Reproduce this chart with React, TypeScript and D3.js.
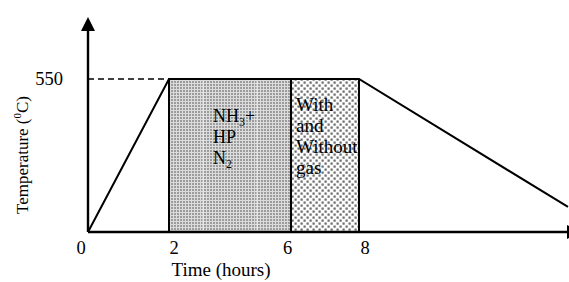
import React from "react";
import * as d3 from "d3";

// ---- data ----
const profileTimes = [0, 2, 8, 14];
const profileTemps = [0, 550, 550, 90];
const stageBounds = [2, 6, 8]; // stage 1: 2-6, stage 2: 6-8
const xTickValues = [0, 2, 6, 8];
const xTickLabels = ["0", "2", "6", "8"];
const yTickValues = [550];
const yTickLabels = ["550"];
const stage1Lines = ["NH", "HP", "N"];
const stage2Lines = ["With", "and", "Without", "gas"];
const xAxisTitle = "Time (hours)";

const W = 569;
const H = 282;
const FONT = "'Liberation Serif', 'Times New Roman', serif";

export default function App() {
  const x = d3
    .scaleLinear()
    .domain([0, 2, 6, 8, 14])
    .range([88, 169, 291, 359, 568]);
  const y = d3.scaleLinear().domain([0, 550]).range([232, 79]);
  const x0 = x(0);
  const y0 = y(0);
  const axisEnd = 567;
  const axisTop = 31;

  const line = d3
    .line<number>()
    .x((_, i) => x(profileTimes[i]))
    .y((d) => y(d));
  const profilePath = line(profileTemps) || "";

  const tickDx = [-7, 5, -3.5, 6];

  return (
    <svg
      width={W}
      height={H}
      style={{ position: "absolute", left: 0, top: 0, background: "#fff" }}
      fontFamily={FONT}
    >
      <defs>
        <pattern id="dense" width={3} height={3} patternUnits="userSpaceOnUse">
          <rect width={3} height={3} fill="#dcdcdc" />
          <rect x={0} y={0} width={2} height={2} fill="#9c9c9c" />
        </pattern>
        <pattern id="sparse" width={6} height={6} patternUnits="userSpaceOnUse">
          <rect width={6} height={6} fill="#fcfcfc" />
          <rect x={0.5} y={0.5} width={2.2} height={2.2} fill="#6a6a6a" />
          <rect x={3.5} y={3.5} width={2.2} height={2.2} fill="#6a6a6a" />
        </pattern>
      </defs>

      {/* stage rectangles */}
      <rect
        x={x(stageBounds[0])}
        y={y(550)}
        width={x(stageBounds[1]) - x(stageBounds[0])}
        height={y0 - y(550)}
        fill="url(#dense)"
      />
      {[203, 257].map((lx) => (
        <line key={lx} x1={lx} x2={lx} y1={y(550) + 2} y2={y0} stroke="#fff" strokeWidth={0.8} opacity={0.8} />
      ))}
      <rect
        x={x(stageBounds[1])}
        y={y(550)}
        width={x(stageBounds[2]) - x(stageBounds[1])}
        height={y0 - y(550)}
        fill="url(#sparse)"
      />
      {/* vertical boundaries */}
      {stageBounds.map((t) => (
        <line key={t} x1={x(t)} x2={x(t)} y1={y(550)} y2={y0} stroke="#000" strokeWidth={2} />
      ))}

      {/* dashed reference line */}
      <line
        x1={x0}
        x2={x(2)}
        y1={y(550)}
        y2={y(550)}
        stroke="#000"
        strokeWidth={1.6}
        strokeDasharray="6,4"
      />

      {/* temperature profile */}
      <path d={profilePath} fill="none" stroke="#000" strokeWidth={2} />

      {/* axes */}
      <line x1={x0} x2={x0} y1={y0} y2={axisTop} stroke="#000" strokeWidth={2.4} />
      <polygon points={`${x0},17 ${x0 - 7},${axisTop} ${x0 + 7},${axisTop}`} fill="#000" />
      <line x1={x0} x2={axisEnd} y1={y0} y2={y0} stroke="#000" strokeWidth={2.4} />
      <polygon points={`${axisEnd},${y0 - 7} ${axisEnd},${y0 + 7} ${axisEnd + 14},${y0}`} fill="#000" />

      {/* tick labels */}
      {xTickValues.map((t, i) => (
        <text key={t} x={x(t) + tickDx[i]} y={254} fontSize={18.5} textAnchor="middle">
          {xTickLabels[i]}
        </text>
      ))}
      {yTickValues.map((v, i) => (
        <text key={v} x={63} y={y(v) + 6} fontSize={18.5} textAnchor="end">
          {yTickLabels[i]}
        </text>
      ))}

      {/* axis titles */}
      <text x={221} y={276} fontSize={19} textAnchor="middle">
        {xAxisTitle}
      </text>
      <text transform="translate(28,155) rotate(-90)" fontSize={17} textAnchor="middle">
        Temperature (<tspan fontSize={11} dy={-7}>0</tspan>
        <tspan dy={7}>C)</tspan>
      </text>

      {/* stage annotations */}
      <text x={213} fontSize={18}>
        <tspan x={213} y={122}>
          {stage1Lines[0]}
          <tspan fontSize={12} dy={4}>3</tspan>
          <tspan dy={-4}>+</tspan>
        </tspan>
        <tspan x={213} y={143}>{stage1Lines[1]}</tspan>
        <tspan x={213} y={164}>
          {stage1Lines[2]}
          <tspan fontSize={12} dy={4}>2</tspan>
        </tspan>
      </text>
      <text fontSize={19}>
        {stage2Lines.map((s, i) => (
          <tspan key={s} x={296} y={111 + i * 21}>
            {s}
          </tspan>
        ))}
      </text>
    </svg>
  );
}
